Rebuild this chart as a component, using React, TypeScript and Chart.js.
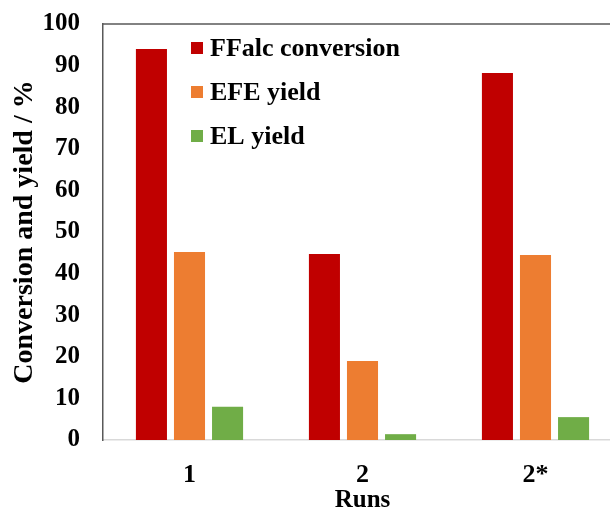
import React, { useEffect, useRef } from "react";
import { Chart, registerables } from "chart.js";

Chart.register(...registerables);

const categories = ["1", "2", "2*"];
const seriesNames = ["FFalc conversion", "EFE yield", "EL yield"];
const ffalcConversion = [94.0, 44.7, 88.2];
const efeYield = [45.2, 19.0, 44.5];
const elYield = [8.0, 1.4, 5.5];
const seriesColors = ["#C00000", "#ED7D31", "#70AD47"];
const yTicks = [0, 10, 20, 30, 40, 50, 60, 70, 80, 90, 100];

const FONT = "'Liberation Serif', 'Times New Roman', serif";

const framePlugin = {
  id: "frameTop",
  afterDraw(chart: any) {
    const { ctx, chartArea } = chart;
    ctx.save();
    ctx.strokeStyle = "#595959";
    ctx.lineWidth = 1.5;
    ctx.beginPath();
    ctx.moveTo(chartArea.left, chartArea.top);
    ctx.lineTo(chartArea.right, chartArea.top);
    ctx.stroke();
    ctx.restore();
  },
};

const legendPlugin = {
  id: "insideLegend",
  afterDraw(chart: any) {
    const { ctx } = chart;
    const rowsY = [48, 92, 136];
    ctx.save();
    ctx.font = `bold 26px ${FONT}`;
    ctx.textBaseline = "middle";
    ctx.textAlign = "left";
    chart.data.datasets.forEach((ds: any, i: number) => {
      const y = rowsY[i];
      ctx.fillStyle = ds.backgroundColor;
      ctx.fillRect(191, y - 6, 12, 12);
      ctx.fillStyle = "#000000";
      ctx.fillText(ds.label, 210, y + 1);
    });
    ctx.restore();
  },
};

export default function App() {
  const canvasRef = useRef<HTMLCanvasElement | null>(null);

  useEffect(() => {
    if (!canvasRef.current) return;
    const datasets = [ffalcConversion, efeYield, elYield].map((data, i) => ({
      label: seriesNames[i],
      data,
      backgroundColor: seriesColors[i],
      borderWidth: 0,
      categoryPercentage: 0.66,
      barPercentage: 0.816,
    }));
    const chart = new Chart(canvasRef.current, {
      type: "bar",
      data: { labels: categories, datasets },
      options: {
        animation: false,
        responsive: true,
        maintainAspectRatio: false,
        layout: { padding: { left: 0, right: 0, top: 24, bottom: 0 } },
        plugins: {
          legend: { display: false },
          tooltip: { enabled: false },
        },
        scales: {
          x: {
            grid: { display: false, drawTicks: false },
            border: { display: true, color: "#D9D9D9", width: 1.5 },
            ticks: {
              color: "#000000",
              font: { family: FONT, size: 26, weight: "bold" },
              padding: 20,
            },
            title: {
              display: true,
              text: "Runs",
              color: "#000000",
              font: { family: FONT, size: 25, weight: "bold" },
              padding: { top: 0, bottom: 0 },
            },
            afterFit: (scale: any) => {
              scale.height = 76;
              scale.paddingLeft = 0;
              scale.paddingRight = 0;
            },
          },
          y: {
            min: 0,
            max: 100,
            afterBuildTicks: (scale: any) => {
              scale.ticks = yTicks.map((v) => ({ value: v }));
            },
            grid: { display: false, drawTicks: false },
            border: { display: true, color: "#595959", width: 1.5 },
            ticks: {
              color: "#000000",
              font: { family: FONT, size: 25, weight: "bold" },
              padding: 23,
            },
            title: {
              display: true,
              text: "Conversion and yield / %",
              color: "#000000",
              font: { family: FONT, size: 28, weight: "bold" },
              padding: { top: 8, bottom: 0 },
            },
            afterFit: (scale: any) => {
              scale.width = 103;
              scale.paddingTop = 0;
              scale.paddingBottom = 0;
            },
          },
        },
      },
      plugins: [framePlugin, legendPlugin],
    });
    return () => chart.destroy();
  }, []);

  return (
    <div
      style={{
        position: "fixed",
        left: 0,
        top: 0,
        width: 610,
        height: 510,
        overflow: "hidden",
        background: "#ffffff",
      }}
    >
      <div style={{ position: "relative", width: 622, height: 516 }}>
        <canvas ref={canvasRef} />
      </div>
    </div>
  );
}
